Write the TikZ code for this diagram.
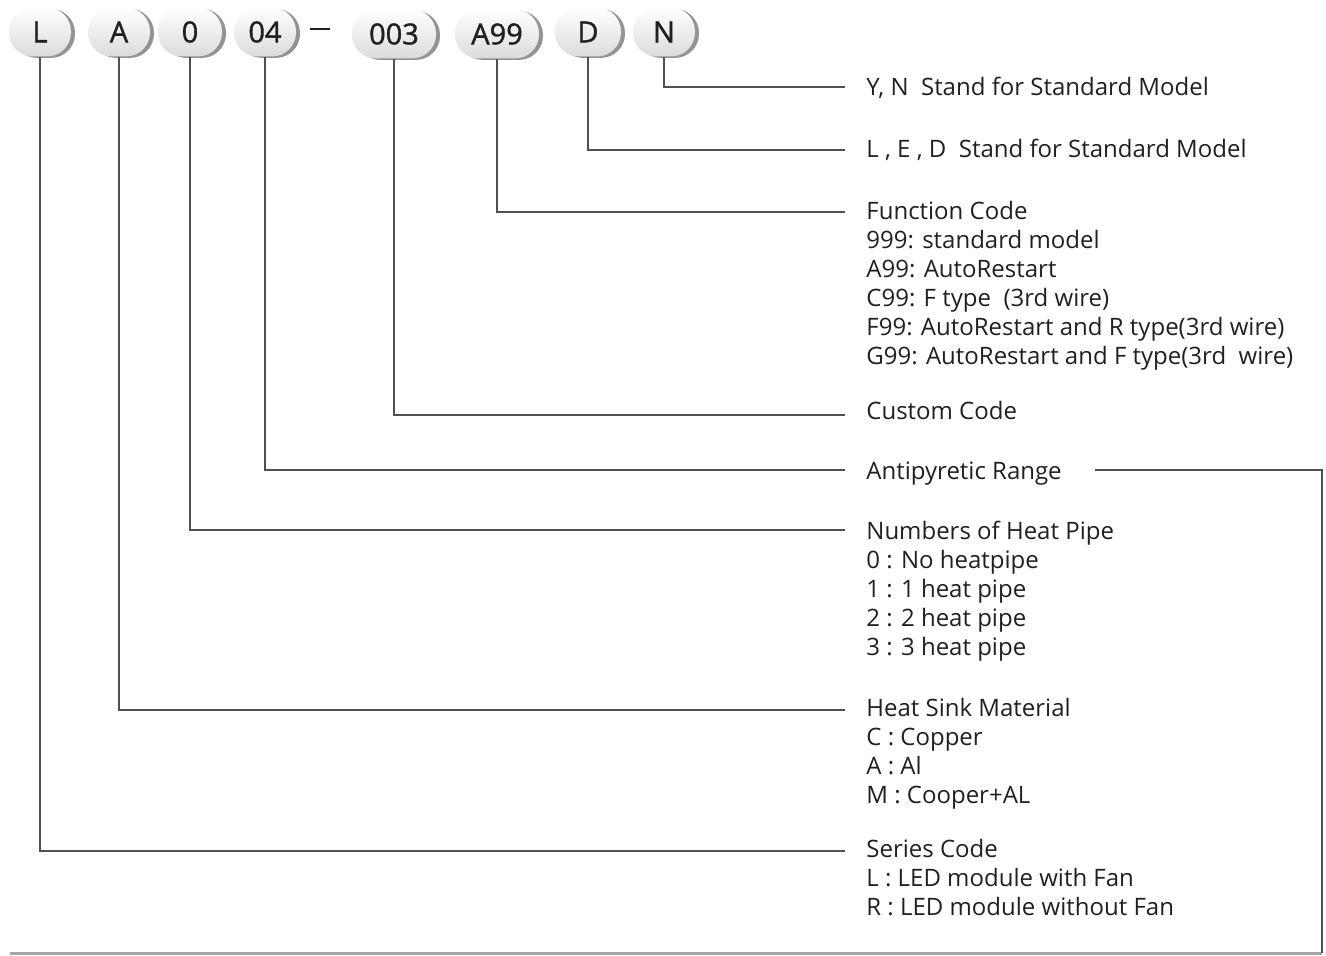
\documentclass[tikz,border=0pt]{standalone}
\usepackage{fontspec}
\setmainfont{Open Sans}
\newfontfamily\pillfont{Open Sans}[FakeBold=1.2]
\usetikzlibrary{shadows}
\definecolor{inkgray}{RGB}{35,31,32}
\definecolor{linegray}{RGB}{80,80,80}
\definecolor{basegray}{RGB}{165,165,165}

\begin{document}
\begin{tikzpicture}[x=0.5pt,y=-0.5pt,
        pill/.style={rectangle, rounded corners=12pt, minimum width=#1, minimum height=24.5pt,
          top color=white, bottom color=gray!28, draw=none, text=inkgray,
          drop shadow={shadow xshift=2pt, shadow yshift=-0.7pt, fill=gray!85, opacity=1},
          font=\pillfont\fontsize{14.5}{14.5}\selectfont},
        pill/.default=31pt,
        lead/.style={draw=linegray, line width=0.65pt},
        desc/.style={anchor=north west, inner sep=0pt, align=left, text=inkgray,
          font=\fontsize{12}{14.5}\selectfont}]
        \useasboundingbox (0,0) rectangle (1326,956);
        % code pills
        \node[pill=31pt] (pL) at (40,32) {L};
        \node[pill=31pt] (pA) at (119,32) {A};
        \node[pill=32pt] (p0) at (190,32) {0};
        \node[pill=31pt] (p04) at (265,32) {04};
        \node[inner sep=0pt] (dash) at (320,29) {\color{inkgray}\rule{10pt}{0.7pt}};
        \node[pill=42pt] (p003) at (394,34) {003};
        \node[pill=42pt] (pA99) at (497,34) {A99};
        \node[pill=33pt] (pD) at (588,32) {D};
        \node[pill=31pt] (pN) at (664,32) {N};
        % descriptions
        \node[desc] (tN) at (866,77) {Y, N\ \ Stand for Standard Model};
        \node[desc] (tD) at (866,139) {L , E , D\ \ Stand for Standard Model};
        \node[desc] (tA99) at (866,201) {Function Code\\999: standard model\\A99: AutoRestart\\C99: F type\ \ (3rd wire)\\F99: AutoRestart and R type(3rd wire)\\G99: AutoRestart and F type(3rd\ \ wire)};
        \node[desc] (t003) at (866,401) {Custom Code};
        \node[desc] (t04) at (866,461) {Antipyretic Range};
        \node[desc] (t0) at (866,521) {Numbers of Heat Pipe\\0 : No heatpipe\\1 : 1 heat pipe\\2 : 2 heat pipe\\3 : 3 heat pipe};
        \node[desc] (tA) at (866,698) {Heat Sink Material\\C : Copper\\A : Al\\M : Cooper+AL};
        \node[desc] (tL) at (866,839) {Series Code\\L : LED module with Fan\\R : LED module without Fan};
        % leader ends
        \coordinate (eN) at (845,87);
        \coordinate (eD) at (845,150);
        \coordinate (eA99) at (845,212);
        \coordinate (e003) at (845,415);
        \coordinate (e04) at (845,470);
        \coordinate (e0) at (845,530);
        \coordinate (eA) at (845,710);
        \coordinate (eL) at (845,851);
        \draw[lead] (pN.south) |- (eN);
        \draw[lead] (pD.south) |- (eD);
        \draw[lead] (pA99.south) |- (eA99);
        \draw[lead] (p003.south) |- (e003);
        \draw[lead] (p04.south) |- (e04);
        \draw[lead] (p0.south) |- (e0);
        \draw[lead] (pA.south) |- (eA);
        \draw[lead] (pL.south) |- (eL);
        % range bracket and base rule
        \coordinate (rStart) at (1095,470);
        \coordinate (rCorner) at (1322,953);
        \coordinate (bStart) at (10,953);
        \draw[draw=basegray, line width=1.5pt] (bStart) -- (rCorner);
        \draw[draw=linegray, line width=1pt] (rStart) -| (rCorner);
\end{tikzpicture}
\end{document}
